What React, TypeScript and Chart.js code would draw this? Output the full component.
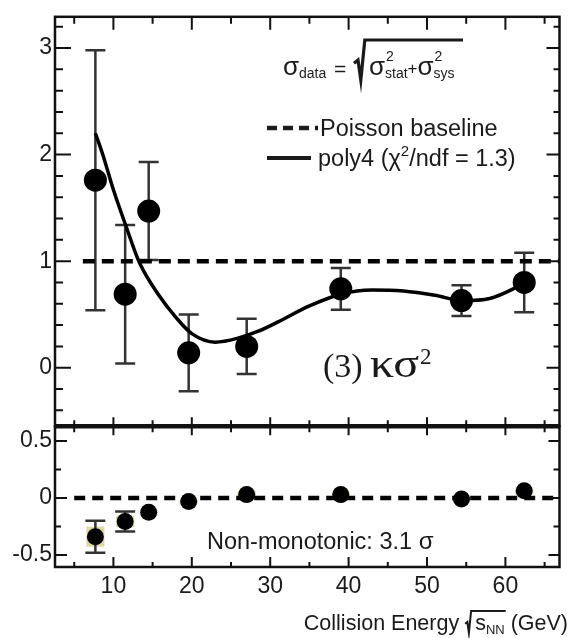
import React, { useEffect, useRef } from "react";
import { Chart, registerables } from "chart.js";
Chart.register(...registerables);

// ---- data ----
const energies = [7.7, 11.5, 14.5, 19.6, 27, 39, 54.4, 62.4];
const kappaSigma2 = [1.76, 0.69, 1.47, 0.14, 0.2, 0.74, 0.63, 0.8];
const kappaSigma2Err = [1.22, 0.65, 0.46, 0.36, 0.26, 0.195, 0.145, 0.28];

const fitEnergies = [7.7, 8.6, 10, 11.6, 13.3, 15.8, 18, 20, 23, 26, 28.4, 31, 35, 39, 43, 47, 51, 54.5, 58, 61, 62.4];
const fitValues = [2.2, 2.01, 1.67, 1.33, 0.99, 0.68, 0.47, 0.32, 0.24, 0.28, 0.34, 0.43, 0.58, 0.69, 0.73, 0.72, 0.68, 0.63, 0.65, 0.74, 0.8];

const poissonEnergies = [6.1, 67];
const poissonValues = [1, 1];

const deltaValues = [-0.34, -0.206, -0.125, -0.032, 0.029, 0.029, -0.009, 0.063];
const deltaErr = [0.14, 0.088, 0.03, 0.03, 0.03, 0.03, 0.03, 0.03];
const deltaSys = [0.088, 0.05, 0.02, 0.02, 0.03, 0.02, 0.02, 0.03];
const zeroEnergies = [5, 67];
const zeroValues = [0, 0];

const xMajorTicks = [10, 20, 30, 40, 50, 60];
const xMinorTicks = [5, 15, 25, 35, 45, 55, 65];
const xTickLabels = ["10", "20", "30", "40", "50", "60"];
const topYMajor = [0, 1, 2, 3];
const topYLabels = ["0", "1", "2", "3"];
const topYMinor = [-0.4, -0.2, 0.2, 0.4, 0.6, 0.8, 1.2, 1.4, 1.6, 1.8, 2.2, 2.4, 2.6, 2.8, 3.2];
const botYMajor = [-0.5, 0, 0.5];
const botYLabels = ["-0.5", "0", "0.5"];
const botYMinor = [-0.25, 0.25];

const SANS = "'Liberation Sans', Arial, Helvetica, sans-serif";
const SERIF = "'Liberation Serif', 'Times New Roman', serif";
const INK = "#111";

function drawRuns(ctx: CanvasRenderingContext2D, x: number, y: number, runs: [string, string, number][]) {
  for (const [t, f, dy] of runs) {
    ctx.font = f;
    ctx.fillText(t, x, y + dy);
    x += ctx.measureText(t).width;
  }
  return x;
}
function runsWidth(ctx: CanvasRenderingContext2D, runs: [string, string, number][]) {
  let w = 0;
  for (const [t, f] of runs) {
    ctx.font = f;
    w += ctx.measureText(t).width;
  }
  return w;
}
function drawRoot(ctx: CanvasRenderingContext2D, x: number, yT: number, yB: number, endX: number, lw: number) {
  const h = yB - yT;
  ctx.save();
  ctx.lineWidth = lw;
  ctx.lineJoin = "miter";
  ctx.beginPath();
  ctx.moveTo(x, yB - h * 0.42);
  ctx.lineTo(x + h * 0.1, yB - h * 0.5);
  ctx.lineTo(x + h * 0.17, yB);
  ctx.lineTo(x + h * 0.27, yT);
  ctx.lineTo(endX, yT);
  ctx.stroke();
  ctx.restore();
}

const panelPlugin = {
  id: "panelPlugin",
  beforeDatasetsDraw(chart: any) {
    const { ctx } = chart;
    const x = chart.scales.x, y = chart.scales.y, y2 = chart.scales.y2;
    ctx.save();
    // systematic boxes (bottom panel)
    ctx.fillStyle = "rgba(214,208,140,0.8)";
    energies.forEach((e, i) => {
      const px = x.getPixelForValue(e);
      const t = y2.getPixelForValue(deltaValues[i] + deltaSys[i]);
      const b = y2.getPixelForValue(deltaValues[i] - deltaSys[i]);
      ctx.fillRect(px - 9, t, 18, b - t);
    });
    // error bars
    ctx.strokeStyle = "#333";
    ctx.lineWidth = 2.5;
    const bar = (scale: any, e: number, v: number, err: number, cap: number) => {
      const px = x.getPixelForValue(e);
      const t = scale.getPixelForValue(v + err);
      const b = scale.getPixelForValue(v - err);
      ctx.beginPath();
      ctx.moveTo(px, t);
      ctx.lineTo(px, b);
      ctx.moveTo(px - cap, t);
      ctx.lineTo(px + cap, t);
      ctx.moveTo(px - cap, b);
      ctx.lineTo(px + cap, b);
      ctx.stroke();
    };
    energies.forEach((e, i) => bar(y, e, kappaSigma2[i], kappaSigma2Err[i], 10));
    energies.forEach((e, i) => { if (deltaErr[i] > 0.05) bar(y2, e, deltaValues[i], deltaErr[i], 10); });
    ctx.restore();
  },
  afterDraw(chart: any) {
    const { ctx } = chart;
    const x = chart.scales.x, y = chart.scales.y, y2 = chart.scales.y2;
    const L = x.left, R = x.right;
    ctx.save();
    ctx.strokeStyle = INK;
    ctx.fillStyle = INK;

    const panel = (ys: any, yMaj: number[], yMin: number[], t: any) => {
      const T = ys.top, B = ys.bottom;
      ctx.lineWidth = 2;
      ctx.beginPath();
      xMajorTicks.forEach((v) => {
        const p = x.getPixelForValue(v);
        ctx.moveTo(p, T); ctx.lineTo(p, T + t.xTopMaj);
        ctx.moveTo(p, B); ctx.lineTo(p, B - t.xBotMaj);
      });
      xMinorTicks.forEach((v) => {
        const p = x.getPixelForValue(v);
        ctx.moveTo(p, T); ctx.lineTo(p, T + t.xTopMin);
        ctx.moveTo(p, B); ctx.lineTo(p, B - t.xBotMin);
      });
      yMaj.forEach((v) => {
        const p = ys.getPixelForValue(v);
        ctx.moveTo(L, p); ctx.lineTo(L + t.yMaj, p);
        ctx.moveTo(R, p); ctx.lineTo(R - t.yMajR, p);
      });
      yMin.forEach((v) => {
        const p = ys.getPixelForValue(v);
        ctx.moveTo(L, p); ctx.lineTo(L + t.yMin, p);
        ctx.moveTo(R, p); ctx.lineTo(R - t.yMinR, p);
      });
      ctx.stroke();
      ctx.lineWidth = 2.5;
      ctx.strokeRect(L, T, R - L, B - T);
    };
    panel(y, topYMajor, topYMinor, { xTopMaj: 13, xTopMin: 7, xBotMaj: 9, xBotMin: 6, yMaj: 16, yMin: 8, yMajR: 13, yMinR: 6 });
    panel(y2, botYMajor, botYMinor, { xTopMaj: 9, xTopMin: 6, xBotMaj: 10, xBotMin: 5, yMaj: 12, yMin: 6, yMajR: 11, yMinR: 6 });
    // thicker boundary between the panels
    ctx.lineWidth = 4.5;
    ctx.beginPath();
    ctx.moveTo(L, y.bottom); ctx.lineTo(R, y.bottom);
    ctx.stroke();

    ctx.fillStyle = "#1a1a1a";
    ctx.strokeStyle = "#1a1a1a";
    ctx.textBaseline = "alphabetic";
    ctx.textAlign = "left";

    // formula sigma_data = sqrt(sigma_stat^2 + sigma_sys^2)
    const fBig = `26px ${SANS}`, fSub = `14px ${SANS}`;
    drawRuns(ctx, 283, 75, [["σ", fBig, 0], ["data", fSub, 3]]);
    drawRuns(ctx, 334, 76, [["=", `21px ${SANS}`, 0]]);
    drawRoot(ctx, 354, 40, 80, 463, 3.2);
    let fx = drawRuns(ctx, 369, 75, [["σ", fBig, 0]]);
    ctx.font = fSub; ctx.fillText("2", fx + 1, 61); ctx.fillText("stat", fx, 78);
    fx += ctx.measureText("stat").width;
    fx = drawRuns(ctx, fx, 74, [["+", `17px ${SANS}`, 0]]);
    fx = drawRuns(ctx, fx, 75, [["σ", fBig, 0]]);
    ctx.font = fSub; ctx.fillText("2", fx + 1, 61); ctx.fillText("sys", fx, 78);

    // legend
    ctx.save();
    ctx.lineWidth = 4.5;
    ctx.setLineDash([10, 6]);
    ctx.beginPath(); ctx.moveTo(267, 128); ctx.lineTo(318, 128); ctx.stroke();
    ctx.setLineDash([]);
    ctx.lineWidth = 4;
    ctx.beginPath(); ctx.moveTo(267, 158); ctx.lineTo(311, 158); ctx.stroke();
    ctx.restore();
    const fLeg = `23.5px ${SANS}`;
    drawRuns(ctx, 320, 136, [["Poisson baseline", fLeg, 0]]);
    drawRuns(ctx, 318, 166, [["poly4 (χ", fLeg, 0], ["2", `15px ${SANS}`, -10], ["/ndf = 1.3)", fLeg, 0]]);

    // panel label (3) kappa sigma^2
    drawRuns(ctx, 323, 377, [["(3)", `34px ${SERIF}`, 0]]);
    ctx.save();
    ctx.translate(370, 377);
    ctx.scale(1.2, 1);
    ctx.font = `40px ${SERIF}`;
    ctx.fillText("κσ", 0, 0);
    const kw = ctx.measureText("κσ").width * 1.2;
    ctx.restore();
    drawRuns(ctx, 370 + kw + 1, 364, [["2", `23px ${SERIF}`, 0]]);

    // bottom panel text
    drawRuns(ctx, 207, 549, [["Non-monotonic: 3.1", `23.5px ${SANS}`, 0], [" σ", `24px ${SANS}`, 0]]);

    // x axis title
    const fT = `21.5px ${SANS}`, fTs = `13px ${SANS}`;
    const pre: [string, string, number][] = [["Collision Energy ", fT, 0]];
    const mid: [string, string, number][] = [["s", fT, 0], ["NN", fTs, 4]];
    const post: [string, string, number][] = [[" (GeV)", fT, 0]];
    const total = runsWidth(ctx, pre) + 10 + runsWidth(ctx, mid) + runsWidth(ctx, post);
    let tx = 568 - total;
    const ty = 630;
    tx = drawRuns(ctx, tx, ty, pre);
    const mw = runsWidth(ctx, mid);
    drawRoot(ctx, tx, ty - 19, ty + 3, tx + 10 + mw + 1, 2);
    tx = drawRuns(ctx, tx + 10, ty, mid);
    drawRuns(ctx, tx, ty, post);
    ctx.restore();
  },
};

export default function App() {
  const ref = useRef<HTMLCanvasElement | null>(null);
  useEffect(() => {
    if (!ref.current) return;
    const tickFont = { family: SANS, size: 23 };
    const chart = new Chart(ref.current, {
      type: "scatter",
      data: {
        datasets: [
          {
            label: "kappa sigma^2",
            data: energies.map((e, i) => ({ x: e, y: kappaSigma2[i] })),
            yAxisID: "y",
            pointRadius: 11.5,
            pointBorderWidth: 0,
            backgroundColor: "#000",
            borderColor: "#000",
            order: 0,
          },
          {
            label: "difference",
            data: energies.map((e, i) => ({ x: e, y: deltaValues[i] })),
            yAxisID: "y2",
            pointRadius: 8.5,
            pointBorderWidth: 0,
            backgroundColor: "#000",
            borderColor: "#000",
            order: 0,
          },
          {
            label: "poly4",
            data: fitEnergies.map((e, i) => ({ x: e, y: fitValues[i] })),
            yAxisID: "y",
            showLine: true,
            pointRadius: 0,
            borderColor: "#000",
            borderWidth: 3.5,
            cubicInterpolationMode: "monotone",
            order: 1,
          },
          {
            label: "Poisson baseline",
            data: poissonEnergies.map((e, i) => ({ x: e, y: poissonValues[i] })),
            yAxisID: "y",
            showLine: true,
            pointRadius: 0,
            borderColor: "#000",
            borderWidth: 4.5,
            borderDash: [12, 7],
            order: 2,
          },
          {
            label: "zero",
            data: zeroEnergies.map((e, i) => ({ x: e, y: zeroValues[i] })),
            yAxisID: "y2",
            showLine: true,
            pointRadius: 0,
            borderColor: "#000",
            borderWidth: 4.5,
            borderDash: [11, 7],
            order: 2,
          },
        ],
      } as any,
      options: {
        animation: false,
        responsive: true,
        maintainAspectRatio: false,
        layout: { padding: { left: 0, right: 6, top: 12, bottom: 0 } },
        plugins: { legend: { display: false }, tooltip: { enabled: false } },
        scales: {
          x: {
            type: "linear",
            min: 2.55,
            max: 66.9,
            grid: { display: false, drawTicks: false },
            border: { display: false },
            afterBuildTicks: (s: any) => { s.ticks = xMajorTicks.map((v) => ({ value: v })); },
            afterFit: (s: any) => { s.height = 71; },
            ticks: {
              autoSkip: false,
              maxRotation: 0,
              padding: 6,
              color: "#1a1a1a",
              font: tickFont,
              callback: (v: any) => xTickLabels[xMajorTicks.indexOf(Number(v))] ?? "",
            },
          },
          y2: {
            type: "linear",
            position: "left",
            stack: "panels",
            stackWeight: 142,
            min: -0.606,
            max: 0.629,
            grid: { display: false, drawTicks: false },
            border: { display: false },
            afterBuildTicks: (s: any) => { s.ticks = botYMajor.map((v) => ({ value: v })); },
            afterFit: (s: any) => { s.width = 55; },
            ticks: {
              autoSkip: false,
              padding: 3,
              color: "#1a1a1a",
              font: tickFont,
              callback: (v: any) => botYLabels[botYMajor.indexOf(Number(v))] ?? "",
            },
          },
          y: {
            type: "linear",
            position: "left",
            stack: "panels",
            stackWeight: 413,
            min: -0.549,
            max: 3.293,
            grid: { display: false, drawTicks: false },
            border: { display: false },
            afterBuildTicks: (s: any) => { s.ticks = topYMajor.map((v) => ({ value: v })); },
            afterFit: (s: any) => { s.width = 55; },
            ticks: {
              autoSkip: false,
              padding: 3,
              color: "#1a1a1a",
              font: tickFont,
              callback: (v: any) => topYLabels[topYMajor.indexOf(Number(v))] ?? "",
            },
          },
        },
      } as any,
      plugins: [panelPlugin],
    });
    return () => chart.destroy();
  }, []);
  return (
    <div style={{ position: "absolute", left: 0, top: 0, width: "571px", height: "638px", background: "#fff" }}>
      <canvas ref={ref} style={{ display: "block" }} />
    </div>
  );
}
